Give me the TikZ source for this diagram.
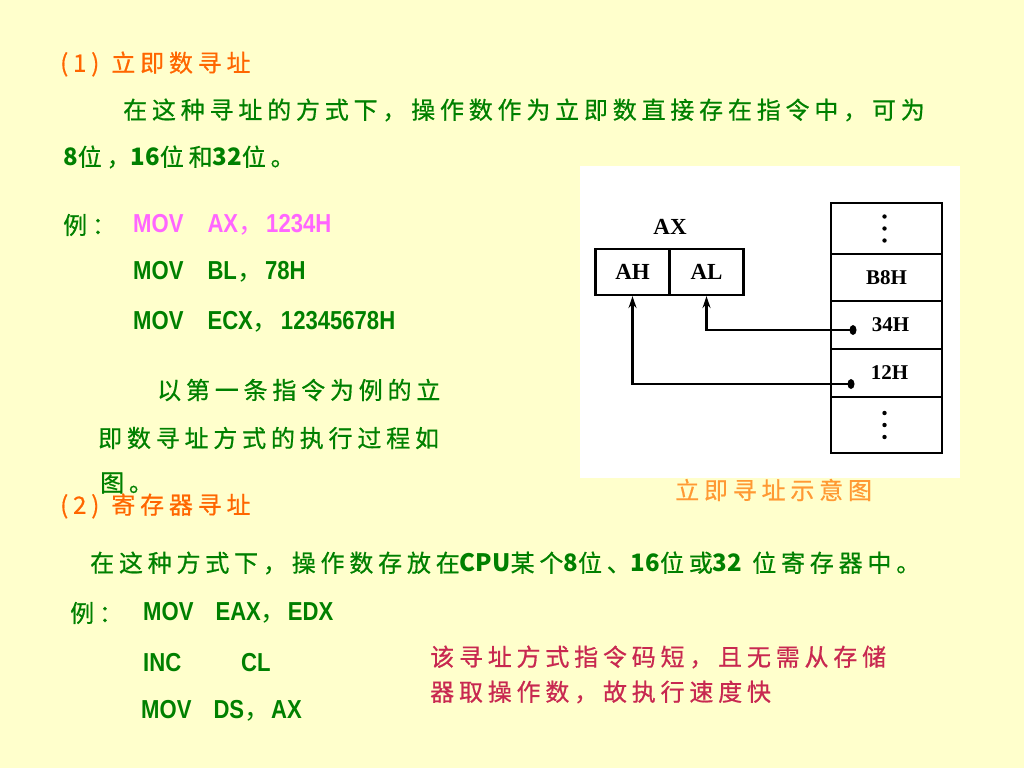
\documentclass[tikz,border=0pt]{standalone}
\usepackage{fontspec}
\usetikzlibrary{arrows.meta,shapes.geometric}
\setmainfont{Noto Sans CJK SC}[LetterSpace=20, FakeBold=0.6]
\newfontfamily\plaincjk{Noto Sans CJK SC}
\newfontfamily\codelatin{Liberation Sans}[FakeStretch=0.85]
\newfontfamily\serifdiag{Liberation Serif}
\newcommand\wide{\fontsize{24}{28}\selectfont}
\newcommand\codefont{\codelatin\bfseries\fontsize{26}{28}\selectfont}
\newcommand\lat[1]{{\plaincjk\bfseries #1}}
\newcommand\fc{{\plaincjk\mdseries ，}}
\definecolor{bgyellow}{RGB}{255,255,204}
\definecolor{tgreen}{RGB}{0,128,0}
\definecolor{horange}{RGB}{255,102,0}
\definecolor{corange}{RGB}{255,153,51}
\definecolor{tpink}{RGB}{255,102,255}
\definecolor{tred}{RGB}{200,40,80}

\begin{document}
\begin{tikzpicture}[x=1pt, y=-1pt,
  txt/.style={anchor=west, inner sep=0, font=\wide, text=tgreen},
  code/.style={anchor=west, inner sep=0, font=\codefont, text=tgreen},
  reg/.style={draw, line width=2.2, minimum width=74, minimum height=46, inner sep=0, font=\serifdiag\bfseries\fontsize{23}{26}\selectfont},
  cell/.style={draw, line width=2.2, minimum width=111, inner sep=0, font=\serifdiag\bfseries\fontsize{21}{24}\selectfont},
  dot/.style={ellipse, fill, inner sep=0, minimum width=7, minimum height=10},
  arrow/.style={-{Stealth[length=12pt, width=8pt]}, line width=2.2}
]
  % page and white panel
  \fill[bgyellow] (0,0) rectangle (1024,768);
  \fill[white] (580,166) rectangle (960,478);

  % (1) immediate addressing
  \node[txt, text=horange] (head1) at (60,64) {(1)\hspace{12pt}立即数寻址};
  \node[txt] (intro1) at (123,110) {在这种寻址的方式下，操作数作为立即数直接存在指令中，可为};
  \node[txt] (intro2) at (63,157) {\lat{8}位，\lat{16}位和\lat{32}位。};
  \node[txt] (eg1) at (63,225) {例：};
  \node[code, text=tpink] (movax) at (133,225) {MOV\hspace{24pt}AX\fc\hspace{2pt}1234H};
  \node[code] (movbl) at (133,272) {MOV\hspace{24pt}BL\fc\hspace{2pt}78H};
  \node[code] (movecx) at (133,322) {MOV\hspace{24pt}ECX\fc\hspace{2pt}12345678H};
  \node[txt] (note1) at (157,390) {以第一条指令为例的立};
  \node[txt] (note2) at (98,438) {即数寻址方式的执行过程如};
  \node[txt] (note3) at (100,483) {图。};

  % register AX
  \node[font=\serifdiag\bfseries\fontsize{23}{26}\selectfont] (axlabel) at (670,227) {AX};
  \node[reg] (ah) at (632.5,272) {AH};
  \node[reg] (al) at (706.5,272) {AL};

  % memory cells
  \node[cell, minimum height=51] (top) at (886.5,228.5) {};
  \node[cell, minimum height=47] (b8) at (886.5,277.5) {B8H};
  \node[cell, minimum height=48] (c34) at (886.5,325) {\hspace{8pt}34H};
  \node[cell, minimum height=48] (c12) at (886.5,373) {\hspace{6pt}12H};
  \node[cell, minimum height=56] (bot) at (886.5,425) {};
  \foreach \c in {top,bot}
    \foreach \dy in {-12,0,12}
      \fill (\c) ++(-2,\dy) circle (2.2);

  % arrows from memory to AX
  \node[dot] (d34) at (853,330) {};
  \node[dot] (d12) at (851,384) {};
  \draw[arrow] (d34.center) -| (al.south);
  \draw[arrow] (d12.center) -| (ah.south);
  \node[txt, text=corange] (caption) at (675,490) {立即寻址示意图};

  % (2) register addressing
  \node[txt, text=horange] (head2) at (60,506) {(2)\hspace{12pt}寄存器寻址};
  \node[txt] (intro3) at (90,563) {在这种方式下，操作数存放在\lat{CPU}某个\lat{8}位、\lat{16}位或\lat{32} 位寄存器中。};
  \node[txt] (eg2) at (70,613) {例：};
  \node[code] (moveax) at (143,613) {MOV\hspace{22pt}EAX\fc\hspace{1pt}EDX};
  \node[code] (inccl) at (143,663) {INC\hspace{60pt}CL};
  \node[code] (movds) at (141,711) {MOV\hspace{22pt}DS\fc\hspace{1pt}AX};
  \node[txt, text=tred] (remark1) at (430,657) {该寻址方式指令码短，且无需从存储};
  \node[txt, text=tred] (remark2) at (430,692) {器取操作数，故执行速度快};
\end{tikzpicture}
\end{document}
